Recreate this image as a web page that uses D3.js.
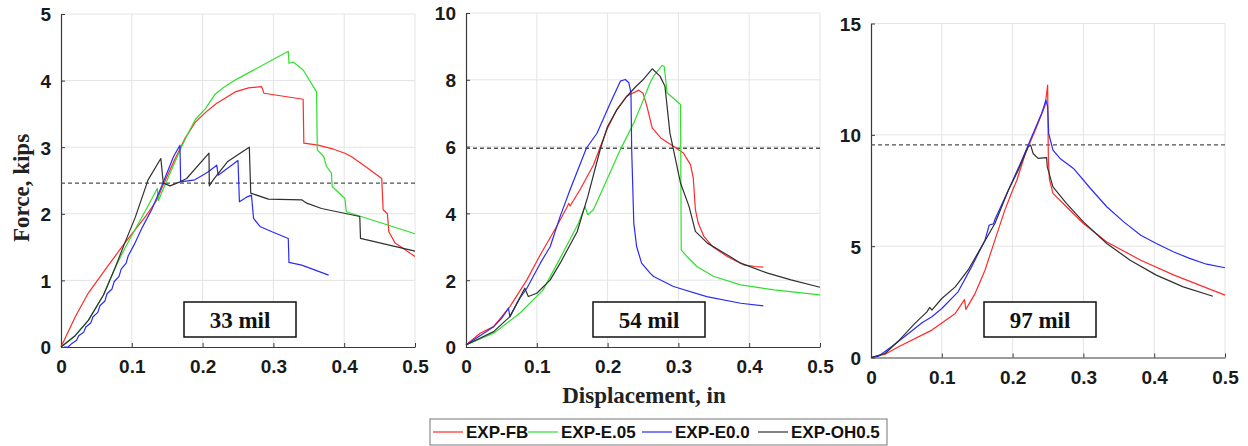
<!DOCTYPE html>
<html>
<head>
<meta charset="utf-8">
<script src="https://cdn.jsdelivr.net/npm/d3@7"></script>
<style>
  html, body { margin: 0; padding: 0; background: #fff; }
  svg { display: block; }
</style>
</head>
<body>
<svg id="chart" width="1248" height="446"></svg>
<script>
// ---- data -------------------------------------------------------------
const seriesNames = ["EXP-FB", "EXP-E.05", "EXP-E0.0", "EXP-OH0.5"];
const panelLabels = ["33 mil", "54 mil", "97 mil"];
const xTickValues = [0, 0.1, 0.2, 0.3, 0.4, 0.5];
const yTicks33 = [0, 1, 2, 3, 4, 5];
const yTicks54 = [0, 2, 4, 6, 8, 10];
const yTicks97 = [0, 5, 10, 15];
const limitForce = [2.46, 5.95, 9.55];   // horizontal reference level per gauge

// 33 mil  [displacement (in), force (kips)]
const fb33 = [[0,0],[0.02,0.45],[0.0386,0.81],[0.065,1.2],[0.09,1.56],[0.12,1.97],[0.135,2.2],[0.145,2.45],[0.16,2.8],[0.175,3.13],[0.19,3.38],[0.205,3.53],[0.22,3.66],[0.246,3.83],[0.265,3.89],[0.2834,3.91],[0.2867,3.81],[0.342,3.72],[0.343,3.06],[0.363,3.03],[0.385,2.97],[0.401,2.91],[0.41,2.86],[0.43,2.71],[0.453,2.53],[0.455,2.06],[0.461,2.0],[0.463,1.73],[0.472,1.56],[0.5,1.36]];
const e05_33 = [[0,0],[0.02,0.17],[0.0386,0.4],[0.06,0.78],[0.076,1.18],[0.09,1.48],[0.1045,1.76],[0.123,2.12],[0.136,2.38],[0.1375,2.2],[0.152,2.56],[0.17,3.0],[0.18,3.22],[0.19,3.42],[0.204,3.58],[0.218,3.8],[0.23,3.9],[0.246,4.01],[0.255,4.06],[0.321,4.44],[0.322,4.26],[0.328,4.28],[0.342,4.16],[0.361,3.83],[0.362,2.96],[0.371,2.86],[0.375,2.71],[0.382,2.61],[0.383,2.41],[0.401,2.23],[0.403,2.03],[0.5,1.70]];
const e00_33 = [[0.004,0],[0.01,0],[0.015,0.05],[0.022,0.1],[0.025,0.17],[0.032,0.22],[0.035,0.3],[0.042,0.36],[0.045,0.45],[0.052,0.52],[0.055,0.62],[0.062,0.69],[0.065,0.8],[0.072,0.87],[0.075,0.98],[0.082,1.06],[0.085,1.17],[0.092,1.26],[0.095,1.37],[0.1045,1.56],[0.115,1.8],[0.128,2.06],[0.142,2.41],[0.159,2.86],[0.168,3.03],[0.169,2.48],[0.189,2.51],[0.2,2.58],[0.208,2.63],[0.22,2.73],[0.222,2.58],[0.25,2.8],[0.252,2.18],[0.262,2.25],[0.269,2.28],[0.272,1.93],[0.281,1.81],[0.298,1.73],[0.321,1.63],[0.322,1.27],[0.34,1.23],[0.378,1.08]];
const oh05_33 = [[0,0],[0.02,0.17],[0.0386,0.4],[0.06,0.78],[0.076,1.18],[0.09,1.56],[0.105,1.95],[0.123,2.51],[0.141,2.83],[0.1445,2.46],[0.154,2.42],[0.168,2.48],[0.1775,2.53],[0.209,2.91],[0.2095,2.42],[0.215,2.51],[0.235,2.78],[0.253,2.91],[0.266,3.0],[0.268,2.31],[0.293,2.22],[0.34,2.21],[0.347,2.16],[0.368,2.08],[0.422,1.96],[0.423,1.63],[0.5,1.44]];

// 54 mil
const fb54 = [[0,0.06],[0.02,0.41],[0.039,0.61],[0.062,1.21],[0.086,2.01],[0.105,2.76],[0.128,3.61],[0.143,4.2],[0.145,4.3],[0.147,4.22],[0.161,4.71],[0.18,5.45],[0.199,6.51],[0.213,7.11],[0.227,7.51],[0.244,7.69],[0.25,7.6],[0.2555,7.21],[0.263,6.56],[0.275,6.26],[0.293,6.01],[0.307,5.81],[0.317,5.46],[0.321,5.06],[0.324,4.11],[0.328,3.71],[0.336,3.31],[0.348,3.01],[0.369,2.71],[0.392,2.46],[0.409,2.41],[0.42,2.39]];
const e05_54 = [[0,0.06],[0.039,0.41],[0.076,1.01],[0.109,1.71],[0.133,2.66],[0.159,3.71],[0.168,4.21],[0.172,3.96],[0.18,4.11],[0.199,5.01],[0.218,5.91],[0.237,6.71],[0.246,7.16],[0.26,7.91],[0.265,8.11],[0.277,8.43],[0.28,8.4],[0.284,7.61],[0.303,7.26],[0.304,2.91],[0.312,2.71],[0.326,2.41],[0.35,2.11],[0.388,1.86],[0.435,1.71],[0.5,1.56]];
const e00_54 = [[0,0.06],[0.039,0.61],[0.05,0.85],[0.06,1.16],[0.062,0.91],[0.076,1.46],[0.086,1.76],[0.105,2.51],[0.119,3.01],[0.133,3.91],[0.147,4.71],[0.17,5.95],[0.185,6.4],[0.204,7.31],[0.218,7.96],[0.225,8.01],[0.23,7.91],[0.233,7.61],[0.234,5.91],[0.237,3.71],[0.241,3.01],[0.248,2.51],[0.26,2.21],[0.265,2.11],[0.293,1.81],[0.34,1.51],[0.388,1.31],[0.42,1.23]];
const oh05_54 = [[0,0.06],[0.039,0.46],[0.062,0.91],[0.083,1.76],[0.088,1.51],[0.1,1.61],[0.119,2.01],[0.133,2.51],[0.157,3.45],[0.172,4.5],[0.19,5.95],[0.2,6.6],[0.213,7.1],[0.227,7.5],[0.24,7.8],[0.25,8.0],[0.263,8.33],[0.274,8.11],[0.281,7.81],[0.288,6.41],[0.293,5.91],[0.303,4.91],[0.315,4.21],[0.324,3.46],[0.341,3.11],[0.365,2.81],[0.388,2.51],[0.426,2.21],[0.459,2.01],[0.5,1.79]];

// 97 mil (no EXP-E.05 test)
const fb97 = [[0,0],[0.02,0.15],[0.039,0.48],[0.086,1.23],[0.119,1.98],[0.132,2.6],[0.134,2.16],[0.147,2.87],[0.161,3.92],[0.175,5.27],[0.189,6.62],[0.201,7.59],[0.206,7.96],[0.218,9.16],[0.232,10.21],[0.246,11.33],[0.2495,12.23],[0.2505,8.9],[0.252,8.0],[0.257,7.37],[0.276,6.77],[0.3,6.02],[0.333,5.19],[0.381,4.37],[0.428,3.70],[0.5,2.80]];
const e00_97 = [[0,0],[0.01,0.05],[0.029,0.48],[0.053,1.08],[0.072,1.56],[0.086,1.83],[0.1,2.2],[0.123,2.95],[0.142,4.07],[0.161,5.27],[0.167,5.95],[0.173,6.0],[0.175,6.2],[0.194,7.51],[0.213,8.86],[0.227,9.91],[0.241,10.96],[0.247,11.56],[0.2495,11.26],[0.251,10.06],[0.257,9.31],[0.267,8.94],[0.286,8.49],[0.31,7.59],[0.333,6.77],[0.357,6.09],[0.381,5.49],[0.403,5.12],[0.427,4.75],[0.45,4.45],[0.474,4.19],[0.5,4.03]];
const oh05_97 = [[0,0],[0.02,0.18],[0.039,0.75],[0.062,1.53],[0.079,2.05],[0.083,2.25],[0.086,2.13],[0.1,2.65],[0.119,3.17],[0.137,3.92],[0.156,4.97],[0.175,6.02],[0.194,7.51],[0.208,8.41],[0.222,9.46],[0.2255,9.54],[0.229,9.16],[0.236,8.94],[0.248,8.98],[0.249,8.56],[0.257,7.66],[0.276,6.92],[0.3,6.09],[0.333,5.12],[0.366,4.37],[0.403,3.70],[0.441,3.17],[0.483,2.75]];

// ---- styling ----------------------------------------------------------
const seriesColors = ["#ff2a2a", "#2ee02e", "#2b2bf5", "#303030"];
const tickFont = "'Liberation Sans', Arial, sans-serif";
const serifFont = "'Liberation Serif', 'Times New Roman', serif";

const panels = [
  { left: 61,  top: 14,   width: 354, height: 333, yMax: 5,  yTicks: yTicks33, limit: limitForce[0], label: panelLabels[0], boxLeft: 123, series: [fb33, e05_33, e00_33, oh05_33] },
  { left: 466, top: 13,   width: 354, height: 334, yMax: 10, yTicks: yTicks54, limit: limitForce[1], label: panelLabels[1], boxLeft: 127, series: [fb54, e05_54, e00_54, oh05_54] },
  { left: 871, top: 23.5, width: 354, height: 334, yMax: 15, yTicks: yTicks97, limit: limitForce[2], label: panelLabels[2], boxLeft: 113, series: [fb97, null, e00_97, oh05_97] }
];

const svg = d3.select("#chart");

panels.forEach(p => {
  const x = d3.scaleLinear().domain([0, 0.5]).range([p.left, p.left + p.width]);
  const y = d3.scaleLinear().domain([0, p.yMax]).range([p.top + p.height, p.top]);
  const g = svg.append("g");

  // grid
  g.append("g").selectAll("line.vg").data(xTickValues.slice(1)).join("line")
    .attr("x1", d => x(d)).attr("x2", d => x(d))
    .attr("y1", y(0)).attr("y2", y(p.yMax))
    .attr("stroke", "#e4e4e4").attr("stroke-width", 1);
  g.append("g").selectAll("line.hg").data(p.yTicks.slice(1)).join("line")
    .attr("x1", x(0)).attr("x2", x(0.5))
    .attr("y1", d => y(d)).attr("y2", d => y(d))
    .attr("stroke", "#e4e4e4").attr("stroke-width", 1);

  // axes
  const xAxis = d3.axisBottom(x).tickValues(xTickValues).tickSizeInner(-4).tickSizeOuter(0)
    .tickPadding(9).tickFormat(d => d === 0 ? "0" : d3.format(".1f")(d).replace(/^0/, "0"));
  const yAxis = d3.axisLeft(y).tickValues(p.yTicks).tickSizeInner(-4).tickSizeOuter(0)
    .tickPadding(10).tickFormat(d3.format("d"));

  const gx = g.append("g").attr("transform", `translate(0,${y(0)})`).call(xAxis);
  const gy = g.append("g").attr("transform", `translate(${x(0)},0)`).call(yAxis);
  [gx, gy].forEach(a => {
    a.select(".domain").attr("stroke", "#3a3a3a").attr("stroke-width", 1.2);
    a.selectAll(".tick line").attr("stroke", "#3a3a3a");
    a.selectAll(".tick text").attr("fill", "#1a1a1a")
      .style("font-family", tickFont).style("font-weight", "bold").style("font-size", "19px");
  });
  gx.selectAll(".tick text").attr("dy", "0.9em");
  gy.selectAll(".tick text").attr("dy", "0.36em");

  // reference level
  g.append("line")
    .attr("x1", x(0)).attr("x2", x(0.5))
    .attr("y1", y(p.limit)).attr("y2", y(p.limit))
    .attr("stroke", "#505050").attr("stroke-width", 1.3).attr("stroke-dasharray", "4,3");

  // test curves
  const line = d3.line().x(d => x(d[0])).y(d => y(d[1]));
  p.series.forEach((s, i) => {
    if (!s) return;
    g.append("path").datum(s)
      .attr("d", line)
      .attr("fill", "none")
      .attr("stroke", seriesColors[i])
      .attr("stroke-width", 1.2)
      .attr("stroke-linejoin", "round");
  });

  // gauge label box
  const bx = p.left + p.boxLeft, by = 302, bw = 112, bh = 35;
  g.append("rect").attr("x", bx).attr("y", by).attr("width", bw).attr("height", bh)
    .attr("fill", "#fff").attr("stroke", "#111").attr("stroke-width", 1.5);
  g.append("text").attr("x", bx + bw / 2).attr("y", by + bh / 2 + 8)
    .attr("text-anchor", "middle")
    .style("font-family", serifFont).style("font-weight", "bold").style("font-size", "23px")
    .attr("fill", "#111").text(p.label);
});

// axis titles
svg.append("text")
  .attr("transform", "translate(29,188) rotate(-90)")
  .attr("text-anchor", "middle")
  .style("font-family", serifFont).style("font-weight", "bold").style("font-size", "23px")
  .attr("fill", "#222").text("Force, kips");

svg.append("text")
  .attr("x", 644).attr("y", 403)
  .attr("text-anchor", "middle")
  .style("font-family", serifFont).style("font-weight", "bold").style("font-size", "23px")
  .attr("fill", "#222").text("Displacement, in");

// legend
const legend = svg.append("g");
legend.append("rect").attr("x", 430).attr("y", 419).attr("width", 457).attr("height", 26)
  .attr("fill", "#fff").attr("stroke", "#777").attr("stroke-width", 1);
const legendX = [433, 528, 642, 758];
const items = legend.selectAll("g.item").data(seriesNames).join("g")
  .attr("transform", (d, i) => `translate(${legendX[i]},432)`);
items.append("line").attr("x1", 0).attr("x2", 30).attr("y1", 0).attr("y2", 0)
  .attr("stroke", (d, i) => seriesColors[i]).attr("stroke-width", 1.2);
items.append("text").attr("x", 33).attr("y", 6)
  .style("font-family", tickFont).style("font-weight", "bold").style("font-size", "17px")
  .attr("fill", "#111").text(d => d);
</script>
</body>
</html>
